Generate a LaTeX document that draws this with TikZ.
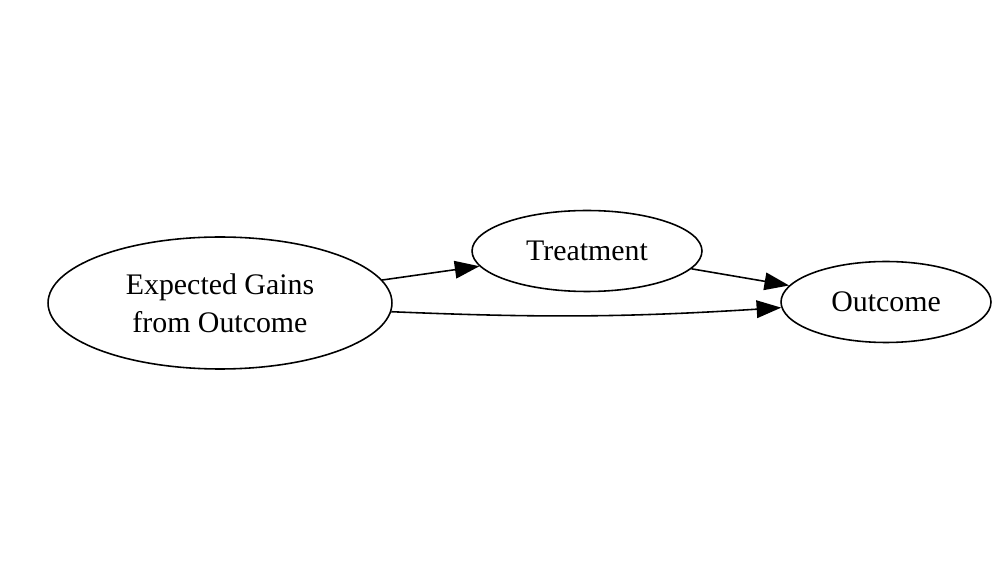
\documentclass[tikz,border=0pt]{standalone}
\usepackage{fontspec}
\setmainfont{Liberation Serif}
\usetikzlibrary{shapes.geometric,arrows.meta}

\begin{document}
\begin{tikzpicture}[
        x=0.02cm,
        y=-0.02cm,
        oval/.style={
            ellipse,
            draw,
            line width=0.9pt,
            inner sep=0pt,
            align=center,
            font=\fontsize{17}{21.5}\selectfont
        },
        arrow/.style={
            -{Triangle[length=14pt,width=10pt]},
            line width=0.9pt
        }
    ]

    \fill[white] (0,0) rectangle (1000,580);
    \useasboundingbox (0,0) rectangle (1000,580);

    % Nodes
    \node[oval, minimum width=6.88cm, minimum height=2.64cm] (gains) at (220,303) {Expected Gains\\from Outcome};
    \node[oval, minimum width=4.6cm, minimum height=1.62cm] (treatment) at (587,251) {Treatment};
    \node[oval, minimum width=4.2cm, minimum height=1.62cm] (outcome) at (886,302) {Outcome};

    % Connections
    \draw[arrow] (gains) -- (treatment);
    \draw[arrow] (treatment) -- (outcome);
    \draw[arrow] (gains) to[bend right=3] (outcome);

\end{tikzpicture}
\end{document}
